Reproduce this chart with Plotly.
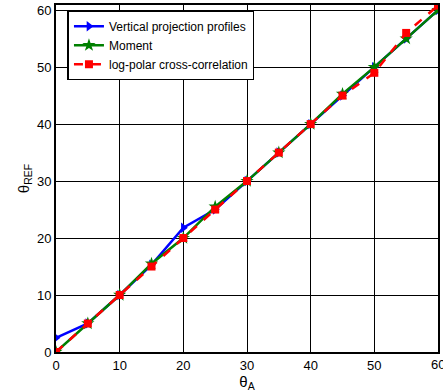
import plotly.graph_objects as go

theta_a = [0, 5, 10, 15, 20, 25, 30, 35, 40, 45, 50, 55, 60]
vpp = [2.5, 5, 10, 15.3, 21.8, 25, 30, 35, 40, 45, 50, 55, 60]
moment = [0, 5, 10, 15.5, 20, 25.5, 30, 35, 40, 45.3, 50, 55, 60]
logpolar = [0, 5, 10, 15, 20, 25, 30, 35, 40, 45, 49, 56, 60.8]
x_ticks = [0, 10, 20, 30, 40, 50, 60]

fig = go.Figure()
fig.add_trace(go.Scatter(x=theta_a, y=vpp, mode="lines+markers", name="Vertical projection profiles",
                         line=dict(color="#0000ff", width=2.5),
                         marker=dict(symbol="triangle-right", size=9, color="#0000ff")))
fig.add_trace(go.Scatter(x=theta_a, y=moment, mode="lines+markers", name="Moment",
                         line=dict(color="#008000", width=2.5),
                         marker=dict(symbol="star", size=10, color="#008000")))
fig.add_trace(go.Scatter(x=theta_a, y=logpolar, mode="lines+markers", name="log-polar cross-correlation",
                         line=dict(color="#ff0000", width=2.5, dash="dash"),
                         marker=dict(symbol="square", size=8, color="#ff0000")))

axis_common = dict(showgrid=True, gridcolor="black", gridwidth=1, showline=True, linecolor="black",
                   linewidth=2, mirror=True, ticks="inside", ticklen=3, tickcolor="black",
                   zeroline=False, tickfont=dict(family="Arial", size=13, color="black"))
fig.update_xaxes(range=[0, 60], tickvals=x_ticks, **axis_common,
                 title=dict(text="θ<sub>A</sub>", font=dict(family="Arial", size=15, color="black"), standoff=2))
fig.update_yaxes(range=[0, 60.9], dtick=10, **axis_common,
                 title=dict(text="θ<sub>REF</sub>", font=dict(family="Arial", size=15, color="black"), standoff=4))

# last x tick label (plotly drops it since it overflows the page)
fig.add_annotation(x=x_ticks[-1], y=0, xref="x", yref="paper", yanchor="top", xanchor="center",
                   yshift=-3, text=str(x_ticks[-1]), showarrow=False,
                   font=dict(family="Arial", size=13, color="black"))

fig.update_layout(width=443, height=392, margin=dict(l=56, r=3, t=5, b=40),
                  plot_bgcolor="white", paper_bgcolor="white",
                  legend=dict(x=0.03, y=0.985, xanchor="left", yanchor="top", bgcolor="white",
                              bordercolor="black", borderwidth=1.5,
                              font=dict(family="Arial", size=12, color="black"),
                              tracegroupgap=0, itemwidth=30),
                  showlegend=True)

fig.write_html("out.html")
